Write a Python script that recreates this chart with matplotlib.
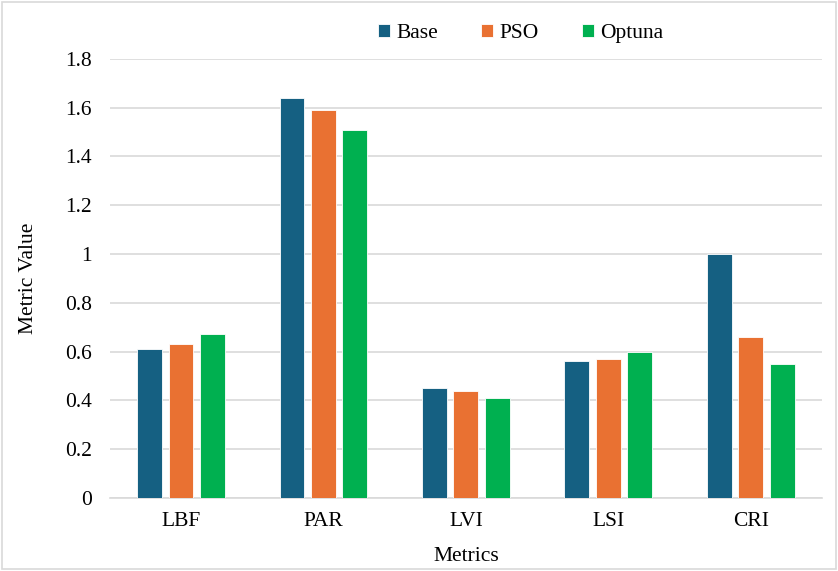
import numpy as np
import matplotlib.pyplot as plt
from matplotlib.patches import Rectangle

plt.rcParams['font.family'] = ['Liberation Serif', 'DejaVu Serif']

metrics = ["LBF", "PAR", "LVI", "LSI", "CRI"]
base = [0.61, 1.64, 0.45, 0.56, 1.00]
pso = [0.63, 1.59, 0.44, 0.57, 0.66]
optuna = [0.67, 1.51, 0.41, 0.60, 0.55]

colors = ["#156082", "#E97132", "#00B050"]

fig = plt.figure(figsize=(8.38, 5.71), dpi=100)
ax = fig.add_axes([0.131, 0.128, 0.850, 0.769])

x = np.arange(len(metrics))
w = 0.175
step = 0.221
for i, (vals, name) in enumerate(zip([base, pso, optuna], ["Base", "PSO", "Optuna"])):
    ax.bar(x + (i - 1) * step, vals, w, color=colors[i], label=name,
           edgecolor="white", linewidth=0.6, zorder=3)

ax.set_xlim(-0.5, len(metrics) - 0.5)
ax.set_ylim(0, 1.8)
ax.set_yticks(np.arange(0, 1.81, 0.2))
ax.set_yticklabels(["0", "0.2", "0.4", "0.6", "0.8", "1", "1.2", "1.4", "1.6", "1.8"])
ax.set_xticks(x)
ax.set_xticklabels(metrics)
ax.yaxis.grid(True, color="#D9D9D9", linewidth=1.2, zorder=0)
ax.tick_params(axis="both", length=0, labelsize=15.5, colors="black")
ax.tick_params(axis="y", pad=13)
ax.tick_params(axis="x", pad=10)
for s in ["top", "right", "left"]:
    ax.spines[s].set_visible(False)
ax.spines["bottom"].set_color("#D9D9D9")
ax.spines["bottom"].set_linewidth(1.2)

ax.set_xlabel("Metrics", fontsize=15.5, labelpad=12)
ax.set_ylabel("Metric Value", fontsize=15.5, labelpad=19)

ax.legend(ncol=3, loc="center", bbox_to_anchor=(0.577, 1.058), frameon=False,
          fontsize=15.5, handlelength=0.55, handleheight=0.55, columnspacing=2.0,
          handletextpad=0.3)

# light border round the whole figure
fig.patches.append(Rectangle((0.002, 0.003), 0.996, 0.994, transform=fig.transFigure,
                             fill=False, edgecolor="#D9D9D9", linewidth=1.2))

fig.savefig("out.png", dpi=100)
